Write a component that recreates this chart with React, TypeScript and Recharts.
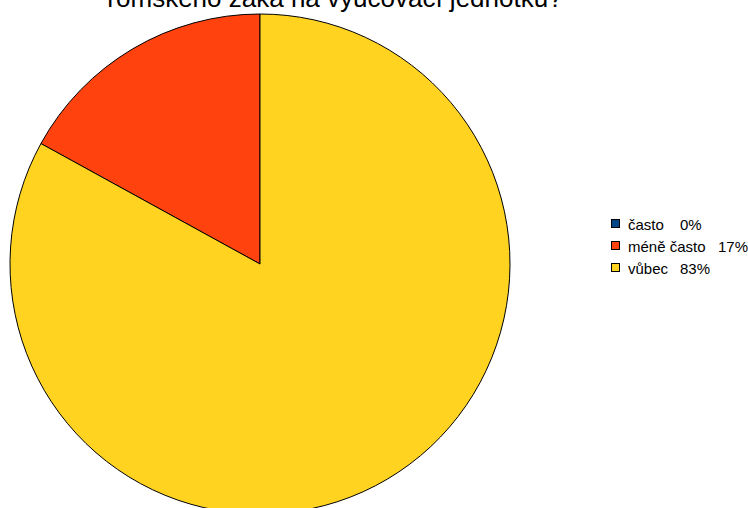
import { PieChart, Pie, Cell, Legend } from "recharts";

const categories = ["často", "méně často", "vůbec"];
const shares = [0, 17, 83];
const colors = ["#004586", "#ff420e", "#ffd320"];
const titleLine = "romského žáka na vyučovací jednotku?";

const data = categories.map((name, i) => ({ name, value: shares[i] }));

// value column works like a tab stop; long labels push it further right
const valueX = (label: string) => (label.length > 6 ? 113 : 75);

function LegendBox() {
  return (
    <svg width={143} height={70} style={{ display: "block" }}>
      {data.map((d, i) => (
        <g key={d.name} transform={`translate(0, ${i * 22})`}>
          <rect x={6.5} y={9.5} width={8} height={8} fill={colors[i]} stroke="#000" strokeWidth={1} />
          <text
            y={20}
            fontFamily="'Liberation Sans', Arial, sans-serif"
            fontSize={15}
            fill="#000"
          >
            <tspan x={23}>{d.name}</tspan>
            <tspan x={valueX(d.name)}>{`${d.value}%`}</tspan>
          </text>
        </g>
      ))}
    </svg>
  );
}

export default function App() {
  return (
    <div
      style={{
        position: "absolute",
        left: 0,
        top: 0,
        width: 748,
        height: 508,
        background: "#fff",
        overflow: "hidden",
      }}
    >
      <PieChart width={748} height={508} margin={{ top: 0, right: 0, bottom: 0, left: 0 }}>
        <Pie
          data={data}
          dataKey="value"
          nameKey="name"
          cx={260}
          cy={264}
          outerRadius={250}
          startAngle={90}
          endAngle={450}
          stroke="#000"
          strokeWidth={1}
          isAnimationActive={false}
        >
          {data.map((d, i) => (
            <Cell key={d.name} fill={colors[i]} />
          ))}
        </Pie>
        <Legend
          layout="vertical"
          wrapperStyle={{ position: "absolute", left: 605, top: 210, width: 143 }}
          content={() => <LegendBox />}
        />
      </PieChart>
      <svg
        width={748}
        height={40}
        style={{ position: "absolute", left: 0, top: 0, pointerEvents: "none" }}
      >
        <text
          x={335}
          y={7}
          textAnchor="middle"
          fontFamily="'Liberation Sans', Arial, sans-serif"
          fontSize={26}
          fill="#000"
        >
          {titleLine}
        </text>
      </svg>
    </div>
  );
}
